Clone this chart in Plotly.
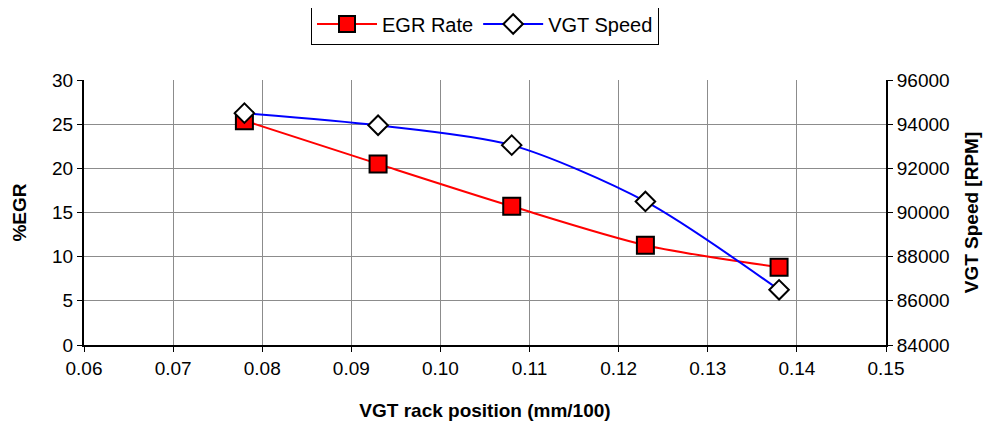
import plotly.graph_objects as go

rack_pos = [0.078, 0.093, 0.108, 0.123, 0.138]
egr_rate = [25.4, 20.5, 15.7, 11.3, 8.8]
vgt_speed = [94500, 93950, 93050, 90500, 86500]

FONT = "Liberation Sans, Arial, sans-serif"

fig = go.Figure()
fig.add_trace(go.Scatter(
    x=rack_pos, y=egr_rate, name="EGR Rate", mode="lines+markers",
    line=dict(color="#ff0000", width=2, shape="spline", smoothing=0.8),
    marker=dict(symbol="square", size=17, color="#ff0000", line=dict(color="black", width=2)),
))
fig.add_trace(go.Scatter(
    x=rack_pos, y=vgt_speed, name="VGT Speed", mode="lines+markers", yaxis="y2",
    line=dict(color="#0000ff", width=2, shape="spline", smoothing=0.8),
    marker=dict(symbol="diamond", size=15, color="white", line=dict(color="black", width=2)),
))

fig.update_layout(
    width=984, height=419,
    margin=dict(l=76, r=106, t=72, b=82, autoexpand=False),
    paper_bgcolor="white", plot_bgcolor="white",
    font=dict(family=FONT, size=19, color="black"),
    showlegend=True,
    legend=dict(orientation="h", x=0.5, xanchor="center", y=1.0 + 56/265, yanchor="middle",
                bordercolor="black", borderwidth=1, font=dict(size=20),
                itemwidth=60),
    xaxis=dict(range=[0.06, 0.15], dtick=0.01, tickformat=".2f",
               showgrid=True, gridcolor="#8c8c8c", gridwidth=1,
               showline=True, linecolor="black", linewidth=2,
               ticks="outside", ticklen=5, tickcolor="black",
               zeroline=False, mirror=False, automargin=False,
               title=dict(text="<b>VGT rack position (mm/100)</b>", font=dict(size=19), standoff=26)),
    yaxis=dict(range=[0, 30], dtick=5,
               showgrid=True, gridcolor="#8c8c8c", gridwidth=1,
               showline=True, linecolor="black", linewidth=2,
               ticks="outside", ticklen=5, tickcolor="black",
               zeroline=False, automargin=False,
               title=dict(text="<b>%EGR</b>", font=dict(size=19), standoff=20)),
    yaxis2=dict(range=[84000, 96000], dtick=2000, tickformat="d", overlaying="y", side="right",
                showgrid=False, showline=True, linecolor="black", linewidth=2,
                ticks="outside", ticklen=5, tickcolor="black",
                zeroline=False, automargin=False,
                title=dict(text="<b>VGT Speed [RPM]</b>", font=dict(size=19), standoff=16)),
)

fig.write_html("out.html")
